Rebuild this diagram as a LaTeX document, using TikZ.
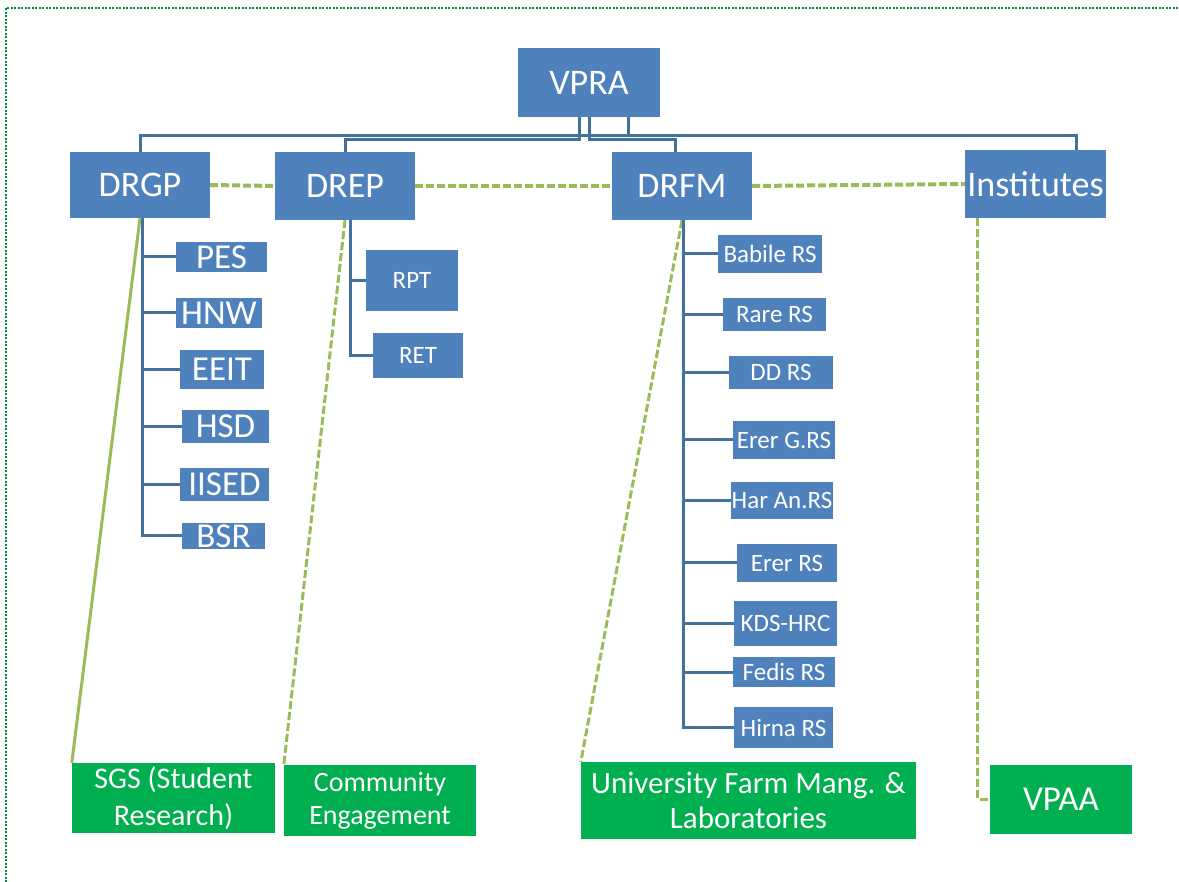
\documentclass[tikz,border=0pt]{standalone}
\usepackage{fontspec}
\setmainfont{Carlito}
\usetikzlibrary{positioning}
\definecolor{boxblue}{HTML}{4F81BD}
\definecolor{lineblue}{HTML}{41719C}
\definecolor{unitgreen}{HTML}{00B050}
\definecolor{linkgreen}{HTML}{9BBB59}

\begin{document}
\begin{tikzpicture}[x=1pt, y=-1pt,
    bluebox/.style={fill=boxblue, text=white, inner sep=0pt},
    topbox/.style={bluebox, font=\fontsize{36}{40}\selectfont},
    unitbox/.style={bluebox, font=\fontsize{35}{38}\selectfont},
    stationbox/.style={bluebox, font=\fontsize{25}{28}\selectfont},
    greenbox/.style={fill=unitgreen, text=white, inner sep=0pt, align=center},
    orgline/.style={lineblue, line width=3pt},
    solidlink/.style={linkgreen, line width=3pt},
    dashlink/.style={linkgreen, line width=3pt, dash pattern=on 8pt off 3pt}]
  \useasboundingbox (0,0) rectangle (1179,882);
  % Marco punteado
  \draw[unitgreen!80!black, line width=1.2pt, dash pattern=on 2pt off 1.5pt] (6,882) -- (6,8) -- (1179,8);

  % Nivel superior
  \node[topbox, minimum width=142pt, minimum height=69pt] (vpra) at (589,82.5) {VPRA};
  \node[topbox, minimum width=140pt, minimum height=66pt] (drgp) at (140,185) {DRGP};
  \node[topbox, minimum width=140pt, minimum height=68pt] (drep) at (345,186) {DREP};
  \node[topbox, minimum width=140pt, minimum height=68pt] (drfm) at (682,186) {DRFM};
  \node[topbox, minimum width=141pt, minimum height=68pt] (inst) at (1035.5,184) {Institutes};

  % Unidades bajo DRGP
  \node[unitbox, minimum width=91pt, minimum height=30pt] (pes) at (221.5,257) {PES};
  \node[unitbox, minimum width=86pt, minimum height=30pt] (hnw) at (219,313) {HNW};
  \node[unitbox, minimum width=84pt, minimum height=39pt] (eeit) at (222,369.5) {EEIT};
  \node[unitbox, minimum width=87pt, minimum height=33pt] (hsd) at (225.5,426.5) {HSD};
  \node[unitbox, minimum width=89pt, minimum height=33pt] (iised) at (224.5,484.5) {IISED};
  \node[unitbox, minimum width=83pt, minimum height=26pt] (bsr) at (223.5,536) {BSR};

  % Unidades bajo DREP
  \node[stationbox, minimum width=92pt, minimum height=61pt] (rpt) at (412,280.5) {RPT};
  \node[stationbox, minimum width=90pt, minimum height=45pt] (ret) at (418,355.5) {RET};

  % Estaciones bajo DRFM
  \node[stationbox, minimum width=104pt, minimum height=38pt] (babile) at (770,254) {Babile RS};
  \node[stationbox, minimum width=103pt, minimum height=33pt] (rare) at (774.5,314.5) {Rare RS};
  \node[stationbox, minimum width=104pt, minimum height=33pt] (ddrs) at (781,372.5) {DD RS};
  \node[stationbox, minimum width=102pt, minimum height=38pt] (erergrs) at (784,440) {Erer G.RS};
  \node[stationbox, minimum width=102pt, minimum height=37pt] (harrs) at (782,500.5) {Har An.RS};
  \node[stationbox, minimum width=100pt, minimum height=38pt] (ererrs) at (787,563) {Erer RS};
  \node[stationbox, minimum width=103pt, minimum height=45pt] (kds) at (785.5,623.5) {KDS-HRC};
  \node[stationbox, minimum width=102pt, minimum height=30pt] (fedis) at (784,672) {Fedis RS};
  \node[stationbox, minimum width=99pt, minimum height=41pt] (hirna) at (783.5,727.5) {Hirna RS};

  % Unidades verdes abajo
  \node[greenbox, font=\fontsize{30}{37}\selectfont, minimum width=203pt, minimum height=70pt] (sgs) at (173.5,798) {SGS (Student\\Research)};
  \node[greenbox, font=\fontsize{28}{33}\selectfont, minimum width=192pt, minimum height=71pt] (comm) at (380,800.5) {Community\\Engagement};
  \node[greenbox, font=\fontsize{31}{35}\selectfont, minimum width=335pt, minimum height=77pt] (farm) at (748.5,800.5) {University Farm Mang. \&\\Laboratories};
  \node[greenbox, font=\fontsize{35}{38}\selectfont, minimum width=142pt, minimum height=69pt] (vpaa) at (1061,799.5) {VPAA};

  % Enlaces verdes
  \draw[dashlink, line width=4pt] (drgp.east) -- (drep.west);
  \draw[dashlink, line width=4pt] (drep.east) -- (drfm.west);
  \draw[dashlink, line width=4pt] (drfm.east) -- (inst.west);
  \draw[solidlink] (drgp.south) -- (sgs.north west);
  \draw[dashlink] (drep.south) -- (comm.north west);
  \draw[dashlink] (drfm.south) -- (farm.north west);
  \draw[dashlink] ([xshift=13pt]inst.south west) |- (vpaa.west);

  % Barra desde VPRA
  \coordinate (busa) at (579,140);
  \coordinate (busb) at (589,140);
  \coordinate (busc) at (628,136);
  \draw[orgline] (vpra.south -| busa) -- (busa) -| (drep.north);
  \draw[orgline] (vpra.south -| busb) -- (busb) -| ([xshift=-7pt]drfm.north);
  \draw[orgline] (vpra.south -| busc) -- (busc);
  \draw[orgline] (drgp.north) |- (busc) -| ([xshift=41pt]inst.north);

  % Troncos de cada rama
  \coordinate (gtrunk) at ([xshift=2pt]drgp.south);
  \coordinate (ptrunk) at ([xshift=5pt]drep.south);
  \coordinate (ftrunk) at ([xshift=1pt]drfm.south);
  \foreach \n in {pes,hnw,eeit,hsd,iised,bsr}
    \draw[orgline] (gtrunk) |- (\n.west);
  \foreach \n in {rpt,ret}
    \draw[orgline] (ptrunk) |- (\n.west);
  \foreach \n in {babile,rare,ddrs,erergrs,harrs,ererrs,kds,fedis,hirna}
    \draw[orgline] (ftrunk) |- (\n.west);
\end{tikzpicture}
\end{document}
